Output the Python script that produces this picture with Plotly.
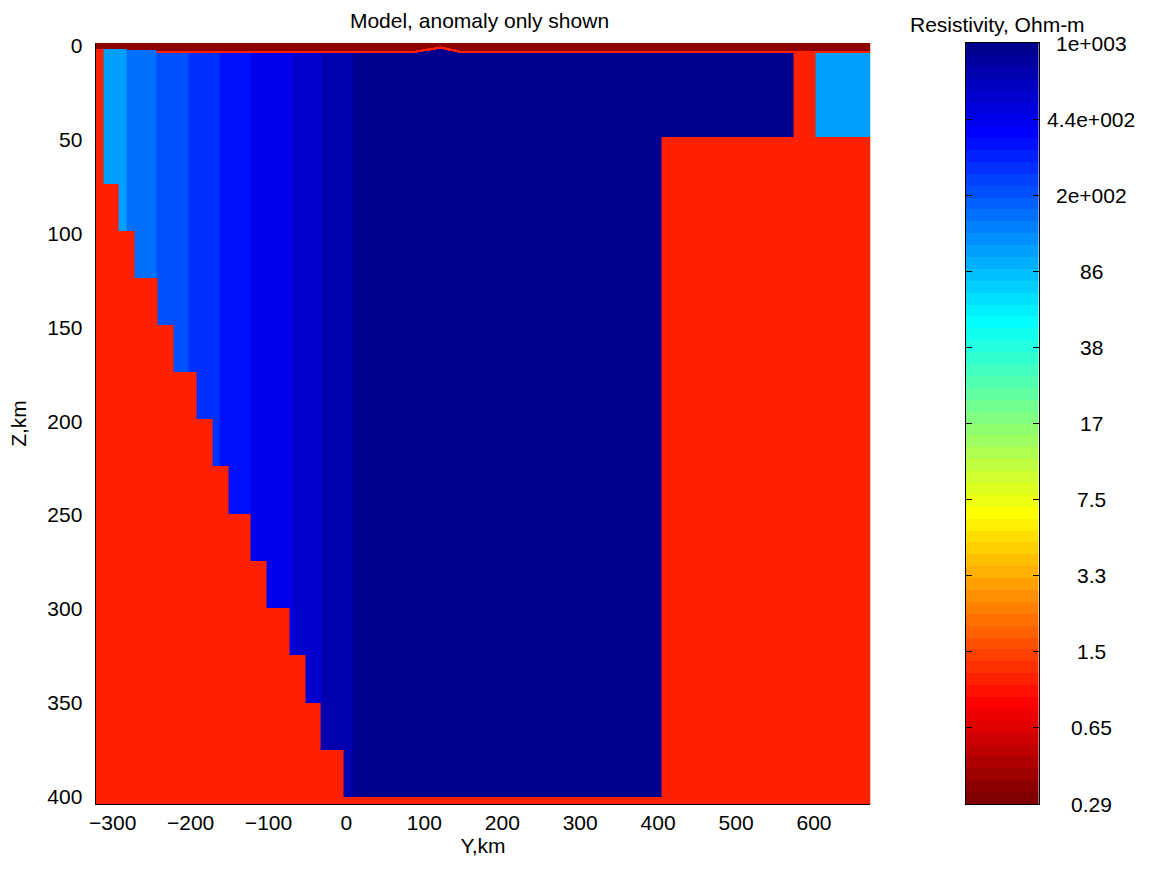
import numpy as np
import plotly.graph_objects as go

# ---------------- data ----------------
RHO_MIN, RHO_MAX = 0.29, 1000.0          # colour limits, Ohm-m
cbar_labels = ["0.29", "0.65", "1.5", "3.3", "7.5", "17", "38", "86", "2e+002", "4.4e+002", "1e+003"]

rho_sea = 0.34        # top conductive layer
rho_host = 1.1        # host (background)
rho_core = 1000.0     # main resistive block
rho_side = 110.0      # eastern small block

# west graded columns (km) and their resistivities
grad_edges = [-311.5, -282.3, -243.2, -202.9, -162.4, -123.2, -70.9, -32.6, 7.8]
grad_rho = [110, 160, 200, 260, 340, 440, 560, 730]

# staircase base of the west flank: depth of each slab top and x where the body starts in it
stair_z = [73.7, 98.8, 123.8, 149.0, 174.0, 199.0, 224.0, 249.5, 274.5, 299.5, 324.5, 350.0, 375.0, 400.0]
stair_x = [-292.0, -272.0, -242.0, -222.0, -192.0, -172.0, -151.5, -123.0, -103.0, -73.0, -53.0, -33.0, -3.7]

# main block
core_x = [7.8, 404.8, 573.8]
core_base = [400.0, 48.7]
# eastern block
side_x = [602.0, 672.5]
side_base = 48.5

# sea floor depth (km) by x segment, and a small seamount
sea_edges = [-322.0, -282.3, -243.2, 672.5]
sea_floor = [1.75, 2.3, 2.66]
sed_base = 4.0
bump_x = [86.6, 103.0, 120.6, 134.0, 146.0]
bump_floor = [2.66, 1.5, 0.4, 1.5, 2.66]

X_RANGE = [-322.0, 672.5]
Z_RANGE = [-1.44, 403.9]

# ---------------- model rasterisation ----------------
def sea_floor_at(x):
    if bump_x[0] <= x <= bump_x[-1]:
        return float(np.interp(x, bump_x, bump_floor))
    for i in range(len(sea_floor)):
        if sea_edges[i] <= x < sea_edges[i + 1]:
            return sea_floor[i]
    return sea_floor[-1]


def rho_at(x, z):
    sf = sea_floor_at(x)
    if z < sf:
        return rho_sea
    if x < grad_edges[2]:
        top = sf
    else:
        top = min(sf + (sed_base - sea_floor[-1]), sed_base)
    if z < top:
        return rho_host
    if grad_edges[0] <= x < grad_edges[-1]:
        if z >= stair_z[-1]:
            return rho_host
        start = grad_edges[0]
        for i in range(len(stair_x)):
            if z >= stair_z[i]:
                start = stair_x[i]
        if x < start:
            return rho_host
        for i in range(len(grad_rho)):
            if grad_edges[i] <= x < grad_edges[i + 1]:
                return grad_rho[i]
    if core_x[0] <= x < core_x[1] and z < core_base[0]:
        return rho_core
    if core_x[1] <= x < core_x[2] and z < core_base[1]:
        return rho_core
    if side_x[0] <= x and z < side_base:
        return rho_side
    return rho_host


xe = sorted(set(X_RANGE + grad_edges + stair_x + core_x + side_x + sea_edges
                + list(np.arange(84.0, 150.0, 1.0))))
xe = [v for v in xe if X_RANGE[0] <= v <= X_RANGE[1]]
ze = sorted(set(Z_RANGE + sea_floor + [sed_base, side_base] + stair_z + core_base
                + list(np.round(np.arange(0.0, 4.2, 0.2), 3))))
ze = [v for v in ze if Z_RANGE[0] <= v <= Z_RANGE[1]]

xc = [(xe[i] + xe[i + 1]) / 2 for i in range(len(xe) - 1)]
zc = [(ze[j] + ze[j + 1]) / 2 for j in range(len(ze) - 1)]
grid = np.array([[np.log10(rho_at(x, z)) for x in xc] for z in zc])

# ---------------- colormap: flipped MATLAB jet(64) ----------------
def jet(n=64):
    m = int(np.ceil(n / 4))
    u = np.concatenate([np.arange(1, m + 1) / m, np.ones(m - 1), np.arange(m, 0, -1) / m])
    g = int(np.ceil(m / 2)) - (1 if n % 4 == 1 else 0) + np.arange(1, len(u) + 1)
    r = g + m
    b = g - m
    J = np.zeros((n, 3))
    r = r[r <= n]; gg = g[g <= n]; b = b[b >= 1]
    J[r - 1, 0] = u[:len(r)]
    J[gg - 1, 1] = u[:len(gg)]
    J[b - 1, 2] = u[len(u) - len(b):]
    return J

cmap = jet(64)[::-1]
N = len(cmap)
colorscale = []
for i, c in enumerate(cmap):
    col = "rgb(%d,%d,%d)" % tuple(int(round(v * 255)) for v in c)
    colorscale.append([i / N, col])
    colorscale.append([(i + 1) / N, col])

lmin, lmax = np.log10(RHO_MIN), np.log10(RHO_MAX)

fig = go.Figure()
fig.add_trace(go.Heatmap(
    x=xe, y=ze, z=grid, zmin=lmin, zmax=lmax, colorscale=colorscale,
    showscale=False, zsmooth=False, hoverinfo="skip", xaxis="x", yaxis="y"))

# colour bar drawn as its own heatmap
cb_edges = list(np.linspace(lmin, lmax, N + 1))
cb_z = [[(cb_edges[i] + cb_edges[i + 1]) / 2] for i in range(N)]
fig.add_trace(go.Heatmap(
    x=[0, 1], y=cb_edges, z=cb_z, zmin=lmin, zmax=lmax, colorscale=colorscale,
    showscale=False, hoverinfo="skip", xaxis="x2", yaxis="y2"))

tick_vals = list(np.linspace(lmin, lmax, len(cbar_labels)))

FONT = "Liberation Sans, Arial, sans-serif"
W, H = 1152, 870
fig.update_layout(
    width=W, height=H,
    margin=dict(l=0, r=0, t=43, b=66),
    paper_bgcolor="white", plot_bgcolor="white",
    font=dict(family=FONT, size=21, color="black"),
    showlegend=False,
    title=dict(text="Model, anomaly only shown", x=479.5 / W, xanchor="center",
               y=1 - 21 / H, yanchor="middle", font=dict(size=21)),
    xaxis=dict(domain=[90 / W, 869 / W], range=X_RANGE, showgrid=False, zeroline=False,
               showline=True, linecolor="black", linewidth=1, ticks="",
               tickvals=[-300, -200, -100, 0, 100, 200, 300, 400, 500, 600],
               title=dict(text="Y,km", standoff=4, font=dict(size=21))),
    yaxis=dict(domain=[0, 1], range=[Z_RANGE[1], Z_RANGE[0]], showgrid=False, zeroline=False,
               showline=True, linecolor="black", linewidth=1, ticks="",
               ticklabelstandoff=8,
               tickvals=[0, 50, 100, 150, 200, 250, 300, 350, 400],
               title=dict(text="Z,km", standoff=14, font=dict(size=21))),
    xaxis2=dict(domain=[965 / W, 1038 / W], range=[0, 1], showgrid=False, zeroline=False,
                showline=True, mirror=True, linecolor="black", linewidth=1,
                showticklabels=False, ticks="", anchor="y2"),
    yaxis2=dict(domain=[0, 1], range=[lmin, lmax], showgrid=False, zeroline=False,
                showline=True, mirror="ticks", linecolor="black", linewidth=1,
                ticks="inside", ticklen=6, tickcolor="black", tickvals=tick_vals,
                showticklabels=False, anchor="x2"),
)

for v, lab in zip(tick_vals, cbar_labels):
    fig.add_annotation(text=lab, xref="x2 domain", yref="y2", x=(1091 - 965) / 73.0, y=v,
                       xanchor="center", yanchor="middle", showarrow=False,
                       font=dict(size=21, family=FONT))

fig.add_annotation(text="Resistivity, Ohm-m", xref="x2 domain", yref="paper",
                   x=(997 - 965) / 73.0, y=1 + 18 / 761, xanchor="center", yanchor="middle",
                   showarrow=False, font=dict(size=21, family=FONT))

fig.write_html("out.html")
